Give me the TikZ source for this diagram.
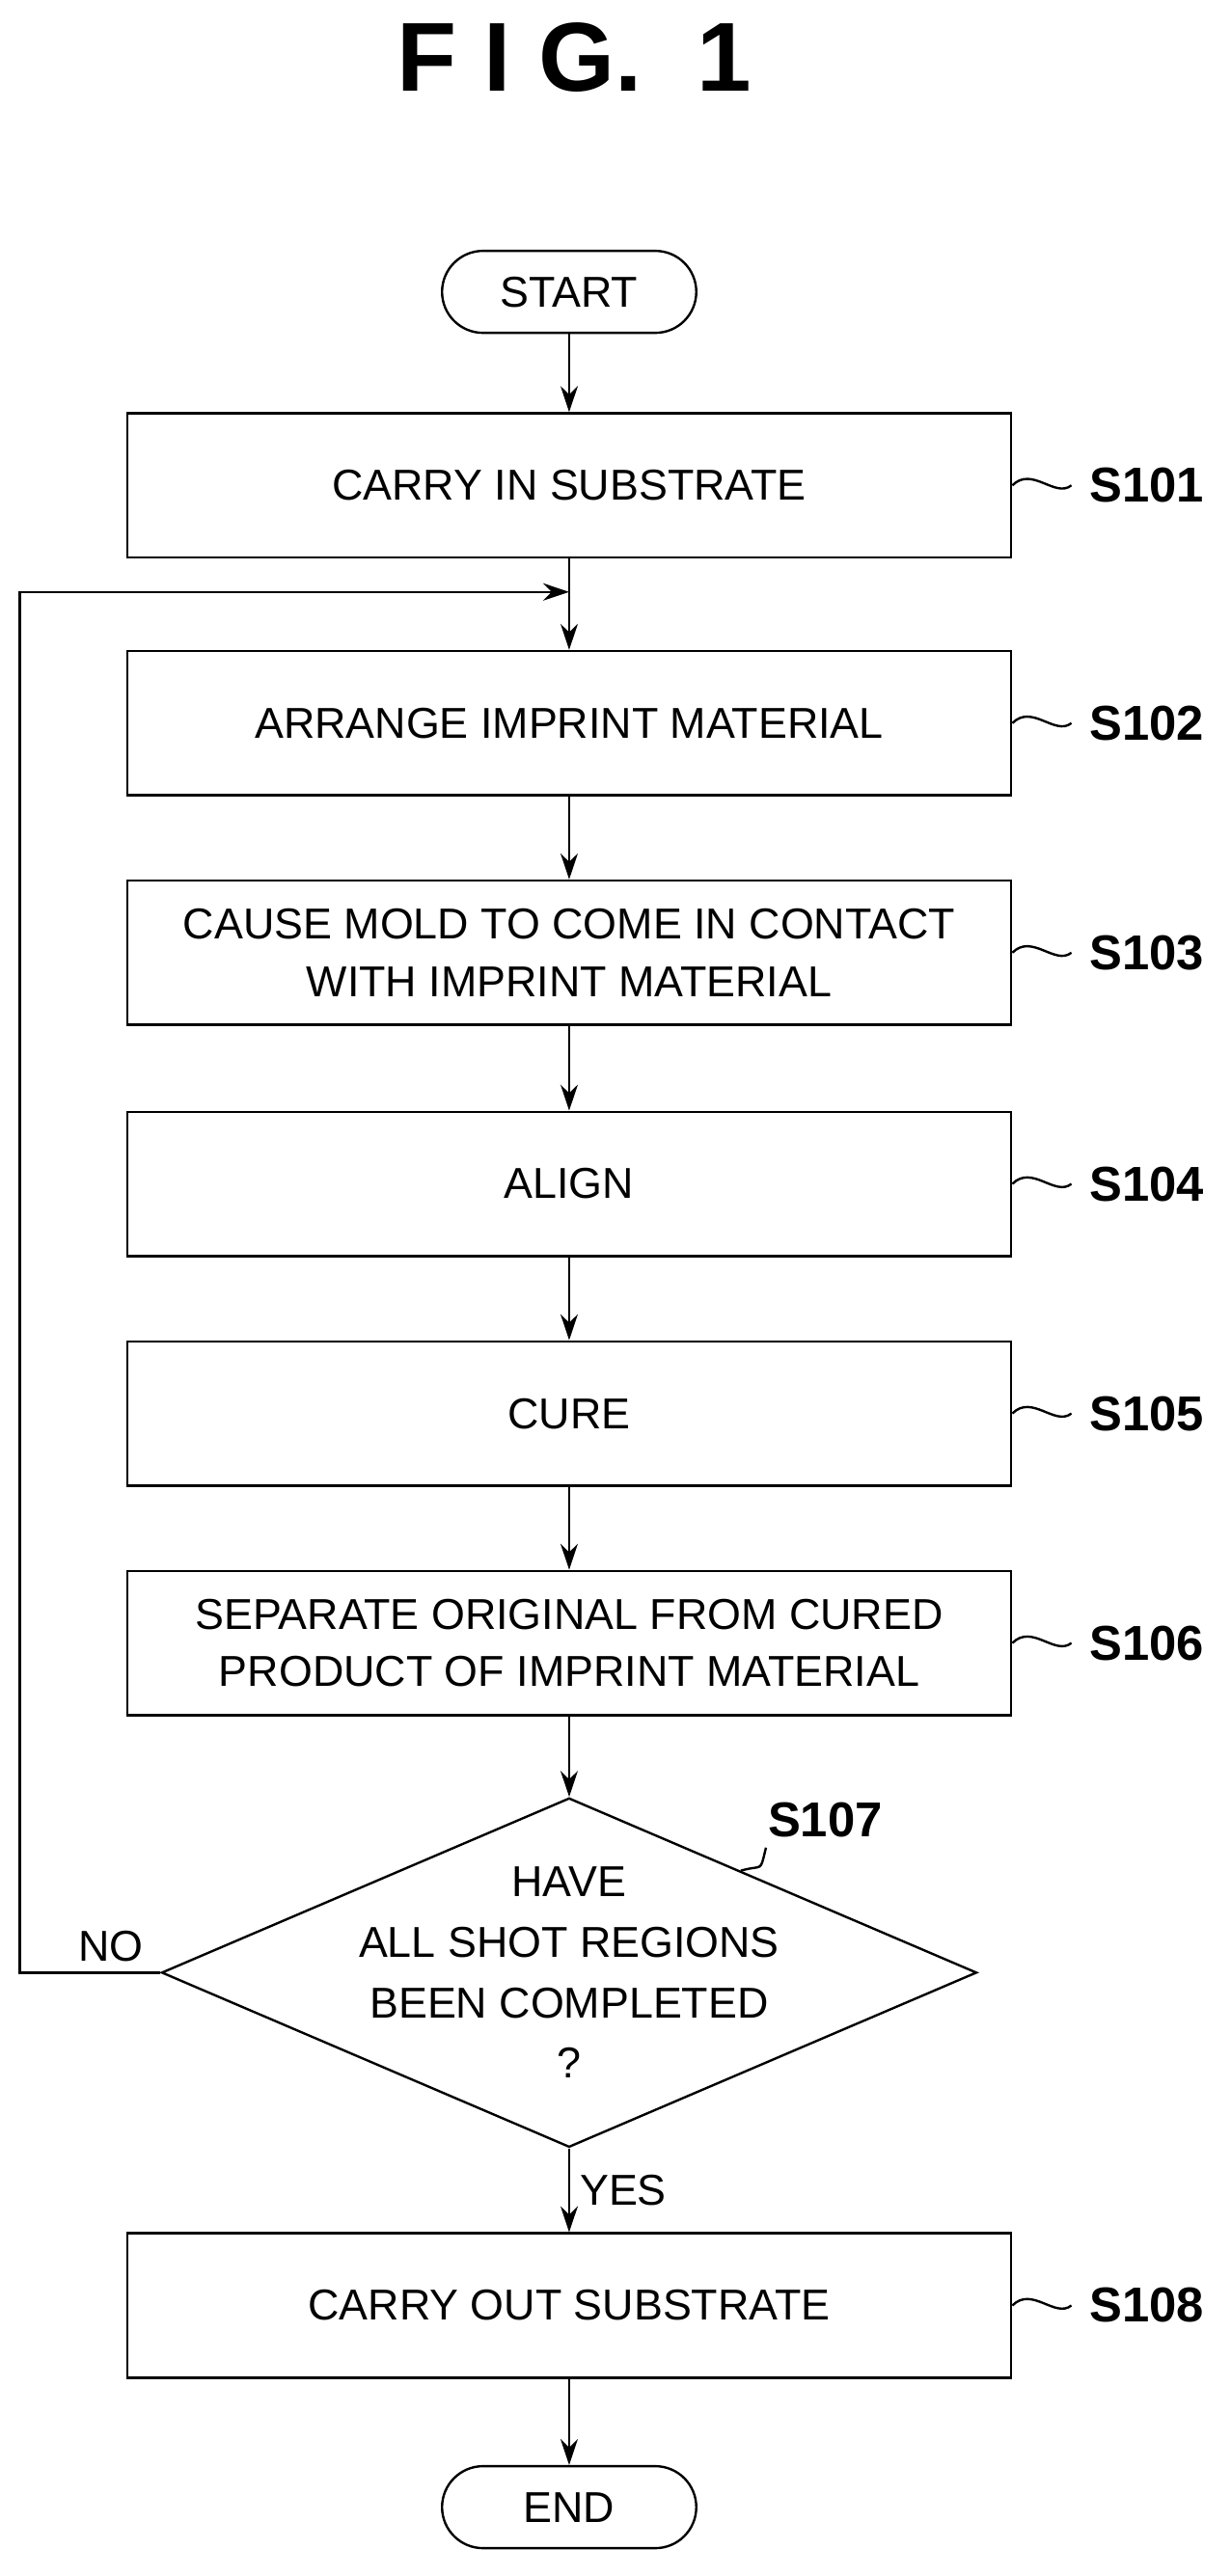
\documentclass[tikz,border=0pt]{standalone}
\usepackage{fontspec}
\setmainfont{Liberation Sans}
\usetikzlibrary{positioning,shapes.geometric,arrows.meta,calc}
\begin{document}
\begin{tikzpicture}[x=0.02cm,y=-0.02cm,
  box/.style={draw,thick,minimum width=539*0.02cm,minimum height=88*0.02cm,align=center,font=\fontsize{15}{20}\selectfont},
  term/.style={draw,thick,rounded corners=0.5cm,minimum width=155*0.02cm,minimum height=50*0.02cm,font=\fontsize{15}{20}\selectfont},
  stepno/.style={font=\bfseries\fontsize{17}{20}\selectfont,anchor=west},
  flow/.style={-{Stealth[length=9pt,width=6pt]},thick}]
 \useasboundingbox (0,0) rectangle (750,1571);

 %title
 \node (title) at (350,35) {\bfseries\fontsize{34}{40}\selectfont F I G.\ \ 1};

 %boxes
 \node[term] (start) at (347,178) {START};
 \node[box] (b101) at (347,296) {CARRY IN SUBSTRATE};
 \node[box] (b102) at (347,441) {ARRANGE IMPRINT MATERIAL};
 \node[box] (b103) at (347,581) {CAUSE MOLD TO COME IN CONTACT\\WITH IMPRINT MATERIAL};
 \node[box] (b104) at (347,722) {ALIGN};
 \node[box] (b105) at (347,862) {CURE};
 \node[box] (b106) at (347,1002) {SEPARATE ORIGINAL FROM CURED\\PRODUCT OF IMPRINT MATERIAL};
 \node[diamond,draw,thick,minimum width=497*0.02cm,minimum height=213*0.02cm,inner sep=0pt] (d107) at (347,1203) {};
 \node[align=center,font=\fontsize{15}{21}\selectfont] (q107) at (347,1203) {HAVE\\ALL SHOT REGIONS\\BEEN COMPLETED\\?};
 \node[box] (b108) at (347,1406) {CARRY OUT SUBSTRATE};
 \node[term] (end) at (347,1529) {END};

 %labels
 \foreach \n in {101,102,103,104,105,106,108} {
   \draw[thick] (b\n.east) .. controls +(12,-12) and +(-10,8) .. ++(36,0) coordinate (w\n);
   \node[stepno] (s\n) at ([xshift=0.1cm]w\n) {S\n};
 }
 \node[stepno] (s107) at (462,1110) {S107};
 \draw[thick] ([xshift=0.1cm]s107.south west) .. controls +(-4,16) and +(14,-4) .. ($(d107.north)!0.42!(d107.east)$);

 %arrows
 \draw[flow] (start) -- (b101);
 \coordinate (loop) at (347,361);
 \draw[thick] (b101) -- (loop);
 \draw[flow] (loop) -- (b102);
 \draw[flow] (b102) -- (b103);
 \draw[flow] (b103) -- (b104);
 \draw[flow] (b104) -- (b105);
 \draw[flow] (b105) -- (b106);
 \draw[flow] (b106) -- (d107);
 \draw[flow] (d107) -- node[right,font=\fontsize{15}{20}\selectfont]{YES} (b108);
 \draw[flow] (b108) -- (end);
 \draw[flow] (d107.west) -- node[above,pos=0.35,font=\fontsize{15}{20}\selectfont]{NO} (12,1203) -- (12,361) -- (loop);
\end{tikzpicture}
\end{document}
